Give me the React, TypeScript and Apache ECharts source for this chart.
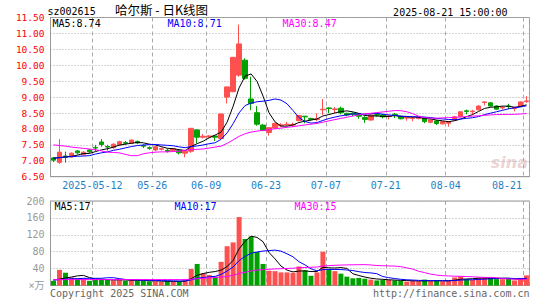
import React, { useEffect, useRef } from 'react';
import * as echarts from 'echarts';

const stockCode = 'sz002615';
const titleText = '哈尔斯 - 日K线图';
const timeText = '2025-08-21 15:00:00';
const maTexts = ['MA5:8.74', 'MA10:8.71', 'MA30:8.47'];
const volMaTexts = ['MA5:17', 'MA10:17', 'MA30:15'];
const copyText = 'Copyright 2025 SINA.COM';
const urlText = 'http://finance.sina.com.cn';

const categories = [
  '2025-04-28', '2025-04-29', '2025-04-30', '2025-05-06', '2025-05-07', '2025-05-08', '2025-05-09',
  '2025-05-12', '2025-05-13', '2025-05-14', '2025-05-15', '2025-05-16',
  '2025-05-19', '2025-05-20', '2025-05-21', '2025-05-22', '2025-05-23',
  '2025-05-26', '2025-05-27', '2025-05-28', '2025-05-29', '2025-05-30',
  '2025-06-03', '2025-06-04', '2025-06-05', '2025-06-06',
  '2025-06-09', '2025-06-10', '2025-06-11', '2025-06-12', '2025-06-13',
  '2025-06-16', '2025-06-17', '2025-06-18', '2025-06-19', '2025-06-20',
  '2025-06-23', '2025-06-24', '2025-06-25', '2025-06-26', '2025-06-27',
  '2025-06-30', '2025-07-01', '2025-07-02', '2025-07-03', '2025-07-04',
  '2025-07-07', '2025-07-08', '2025-07-09', '2025-07-10', '2025-07-11',
  '2025-07-14', '2025-07-15', '2025-07-16', '2025-07-17', '2025-07-18',
  '2025-07-21', '2025-07-22', '2025-07-23', '2025-07-24', '2025-07-25',
  '2025-07-28', '2025-07-29', '2025-07-30', '2025-07-31', '2025-08-01',
  '2025-08-04', '2025-08-05', '2025-08-06', '2025-08-07', '2025-08-08',
  '2025-08-11', '2025-08-12', '2025-08-13', '2025-08-14', '2025-08-15',
  '2025-08-18', '2025-08-19', '2025-08-20', '2025-08-21',
];

const openP = [
  7.09, 6.95, 7.15, 7.12, 7.31, 7.19, 7.34, 7.42, 7.59, 7.45,
  7.41, 7.50, 7.57, 7.55, 7.61, 7.48, 7.41, 7.34, 7.36, 7.33,
  7.32, 7.32, 7.24, 7.30, 7.97, 7.74, 7.75, 7.78, 7.70, 9.00,
  9.17, 9.69, 10.16, 8.94, 8.51, 8.12, 7.89, 8.03, 8.10, 8.13,
  8.12, 8.26, 8.40, 8.33, 8.30, 8.60, 8.66, 8.61, 8.65, 8.49,
  8.49, 8.47, 8.36, 8.28, 8.45, 8.44, 8.39, 8.46, 8.39, 8.34,
  8.33, 8.33, 8.33, 8.21, 8.25, 8.16, 8.18, 8.28, 8.39, 8.57,
  8.54, 8.60, 8.83, 8.82, 8.72, 8.66, 8.72, 8.64, 8.70, 8.86,
];
const closeP = [
  7.02, 7.27, 7.11, 7.24, 7.25, 7.27, 7.28, 7.40, 7.51, 7.43,
  7.52, 7.60, 7.55, 7.65, 7.56, 7.46, 7.39, 7.44, 7.38, 7.30,
  7.38, 7.25, 7.30, 8.02, 7.74, 7.77, 7.78, 7.74, 8.47, 9.32,
  10.25, 10.67, 9.59, 8.80, 8.15, 7.95, 8.04, 8.17, 8.13, 8.15,
  8.14, 8.42, 8.38, 8.30, 8.32, 8.62, 8.64, 8.63, 8.51, 8.44,
  8.46, 8.40, 8.30, 8.44, 8.43, 8.38, 8.41, 8.44, 8.32, 8.36,
  8.35, 8.36, 8.23, 8.28, 8.17, 8.23, 8.23, 8.38, 8.54, 8.55,
  8.56, 8.72, 8.85, 8.72, 8.62, 8.68, 8.70, 8.68, 8.85, 8.88,
];
const lowP = [
  6.96, 6.90, 6.94, 7.10, 7.20, 7.16, 7.24, 7.30, 7.44, 7.32,
  7.38, 7.46, 7.50, 7.52, 7.52, 7.40, 7.34, 7.30, 7.32, 7.26,
  7.28, 7.20, 7.11, 7.25, 7.55, 7.70, 7.72, 7.62, 7.68, 8.80,
  9.15, 9.64, 9.55, 8.59, 8.10, 7.93, 7.79, 8.00, 8.06, 8.10,
  8.08, 8.24, 8.18, 8.26, 8.24, 8.44, 8.49, 8.50, 8.46, 8.40,
  8.40, 8.32, 8.19, 8.26, 8.38, 8.33, 8.30, 8.34, 8.30, 8.26,
  8.24, 8.30, 8.18, 8.18, 8.12, 8.14, 8.07, 8.26, 8.37, 8.46,
  8.45, 8.58, 8.74, 8.70, 8.60, 8.61, 8.62, 8.55, 8.68, 8.82,
];
const highP = [
  7.12, 7.68, 7.29, 7.26, 7.34, 7.30, 7.37, 7.50, 7.68, 7.50,
  7.55, 7.63, 7.62, 7.67, 7.63, 7.52, 7.45, 7.46, 7.42, 7.38,
  7.40, 7.36, 7.32, 8.03, 7.99, 7.84, 7.80, 7.80, 8.48, 9.33,
  10.25, 11.28, 10.22, 9.64, 8.72, 8.16, 8.06, 8.20, 8.18, 8.22,
  8.20, 8.44, 8.41, 8.35, 8.49, 8.94, 8.68, 8.68, 8.70, 8.51,
  8.52, 8.50, 8.40, 8.46, 8.50, 8.47, 8.45, 8.50, 8.41, 8.38,
  8.39, 8.38, 8.36, 8.30, 8.28, 8.25, 8.25, 8.41, 8.55, 8.61,
  8.60, 8.74, 8.86, 8.84, 8.74, 8.72, 8.79, 8.69, 8.86, 9.03,
];
const volumes = [
  11, 37, 30, 19, 17, 17, 11, 14, 15, 13,
  12, 14, 11, 13, 12, 11, 10, 10, 9, 11,
  9, 10, 12, 39, 51, 29, 25, 21, 56, 93,
  102, 162, 110, 116, 79, 51, 35, 34, 31, 31,
  30, 45, 36, 23, 31, 80, 39, 34, 28, 21,
  17, 18, 16, 14, 12, 13, 13, 12, 11, 9,
  11, 10, 14, 10, 12, 10, 11, 19, 22, 15,
  13, 18, 20, 19, 15, 15, 16, 12, 18, 24,
];

// moving-average values before a full window exists
const ma5Head = [7.08, 7.10, 7.12, 7.14];
const ma10Head = [7.08, 7.10, 7.12, 7.13, 7.14, 7.15, 7.16, 7.21, 7.25];
const ma30Head = [
  7.50, 7.48, 7.46, 7.43, 7.41, 7.39, 7.37, 7.35, 7.31, 7.27,
  7.26, 7.25, 7.20, 7.16, 7.16, 7.22, 7.25, 7.27, 7.28, 7.28,
  7.29, 7.30, 7.33, 7.35, 7.36, 7.37, 7.40, 7.43, 7.46,
];
const vma5Head = [13, 15, 18, 20];
const vma10Head = [13, 14, 15, 16, 16, 17, 17, 17, 17];
const vma30Head = [
  14, 14, 14, 14, 14, 14, 14, 14, 14, 14,
  14, 14, 14, 14, 14, 14, 14, 14, 14, 14,
  14, 14, 14, 15, 16, 17, 18, 19, 20,
];

const tickDates = ['2025-05-12', '2025-05-26', '2025-06-09', '2025-06-23', '2025-07-07', '2025-07-21', '2025-08-04', '2025-08-21'];
const tickTexts = ['2025-05-12', '05-26', '06-09', '06-23', '07-07', '07-21', '08-04', '08-21'];

const priceMin = 6.5;
const priceMax = 11.5;
const priceStep = 0.5;
const volMax = 200;
const volStep = 40;
const volUnit = '×万';

const RED = '#ff5050';
const GREEN = '#00a000';
const MONO = '"DejaVu Sans Mono", "Liberation Mono", "Noto Sans CJK SC", monospace';

function movingAvg(vals: number[], n: number, head: number[]) {
  return vals.map((_, i) => {
    if (i < n - 1) return head[i];
    let s = 0;
    for (let k = i - n + 1; k <= i; k++) s += vals[k];
    return +(s / n).toFixed(3);
  });
}

function txt(text: string, x: number, y: number, fill: string, font: string, align = 'left') {
  return {
    type: 'text',
    x,
    y,
    silent: true,
    z: 100,
    style: { text, fill, font, textAlign: align, textVerticalAlign: 'middle' },
  };
}

export default function App() {
  const ref = useRef<HTMLDivElement>(null);

  useEffect(() => {
    document.body.style.margin = '0';
    const chart = echarts.init(ref.current!, null, { renderer: 'svg' });

    const tickIdx = tickDates.map((d) => categories.indexOf(d));
    const tickSet = new Set(tickIdx);
    const lastIdx = tickIdx[tickIdx.length - 1];

    const candleData = categories.map((_, i) => [openP[i], closeP[i], lowP[i], highP[i]]);
    const volData = volumes.map((v, i) => ({
      value: v,
      itemStyle: { color: closeP[i] >= openP[i] ? RED : GREEN },
    }));

    const ma5 = movingAvg(closeP, 5, ma5Head);
    const ma10 = movingAvg(closeP, 10, ma10Head);
    const ma30 = movingAvg(closeP, 30, ma30Head);
    const vma5 = movingAvg(volumes, 5, vma5Head);
    const vma10 = movingAvg(volumes, 10, vma10Head);
    const vma30 = movingAvg(volumes, 30, vma30Head);

    const lineS = (name: string, data: number[], color: string, xi: number) => ({
      name,
      type: 'line',
      data,
      xAxisIndex: xi,
      yAxisIndex: xi,
      symbol: 'none',
      silent: true,
      z: 5,
      lineStyle: { color, width: 1 },
    });

    const gridBase = { left: 50.5, right: 15.5, show: true, borderColor: '#999', borderWidth: 1, backgroundColor: 'transparent' };
    const splitX = { show: true, interval: (i: number) => tickSet.has(i), lineStyle: { color: '#aaa', type: [4, 3], width: 1 } };

    const option: any = {
      animation: false,
      backgroundColor: '#fff',
      grid: [
        { ...gridBase, top: 17.5, height: 159.2 },
        { ...gridBase, top: 201, height: 84.5 },
      ],
      xAxis: [
        {
          type: 'category',
          gridIndex: 0,
          data: categories,
          boundaryGap: true,
          axisLine: { show: true, lineStyle: { color: '#999' } },
          axisTick: { show: false },
          axisLabel: {
            interval: (i: number) => tickSet.has(i),
            formatter: (_v: string, i: number) => {
              const t = tickTexts[tickIdx.indexOf(i)];
              return i === lastIdx ? '{last|' + t + '}' : t;
            },
            color: '#1f7fc6',
            fontSize: 10,
            fontFamily: MONO,
            margin: 4,
            padding: [0, 6, 0, 0],
            rich: { last: { color: '#1f7fc6', fontSize: 10, fontFamily: MONO, padding: [0, 33, 0, 0] } },
          },
          splitLine: splitX,
        },
        {
          type: 'category',
          gridIndex: 1,
          data: categories,
          boundaryGap: true,
          axisLine: { show: true, lineStyle: { color: '#999' } },
          axisTick: { show: false },
          axisLabel: { show: false },
          splitLine: splitX,
        },
      ],
      yAxis: [
        {
          type: 'value',
          gridIndex: 0,
          min: priceMin,
          max: priceMax,
          interval: priceStep,
          axisLine: { show: true, lineStyle: { color: '#999' } },
          axisTick: { show: false },
          axisLabel: {
            color: '#ff0000',
            fontSize: 9.5,
            fontFamily: MONO,
            margin: 6,
            formatter: (v: number) => v.toFixed(2),
          },
          splitLine: { lineStyle: { color: '#aaa', type: [1, 2] } },
        },
        {
          type: 'value',
          gridIndex: 1,
          min: 0,
          max: volMax,
          interval: volStep,
          axisLine: { show: true, lineStyle: { color: '#999' } },
          axisTick: { show: false },
          axisLabel: {
            color: '#999',
            fontSize: 10,
            fontFamily: MONO,
            margin: 6,
            formatter: (v: number) => (v === 0 ? volUnit : String(v)),
          },
          splitLine: { lineStyle: { color: '#aaa', type: [1, 2] } },
        },
      ],
      series: [
        {
          name: 'K',
          type: 'candlestick',
          xAxisIndex: 0,
          yAxisIndex: 0,
          data: candleData,
          barWidth: 5,
          silent: true,
          itemStyle: { color: RED, color0: GREEN, borderColor: RED, borderColor0: GREEN, borderWidth: 1 },
        },
        lineS('MA5', ma5, '#000000', 0),
        lineS('MA10', ma10, '#0000ff', 0),
        lineS('MA30', ma30, '#ff00ff', 0),
        {
          name: 'VOL',
          type: 'bar',
          xAxisIndex: 1,
          yAxisIndex: 1,
          data: volData,
          barWidth: 5,
          silent: true,
        },
        lineS('VMA5', vma5, '#000000', 1),
        lineS('VMA10', vma10, '#0000ff', 1),
        lineS('VMA30', vma30, '#ff00ff', 1),
      ],
      graphic: [
        txt(stockCode, 47.5, 11, '#000', `10px ${MONO}`),
        txt(titleText, 115, 9, '#000', '12.5px "Noto Sans CJK SC"'),
        txt(timeText, 507.5, 12, '#000', `10px ${MONO}`, 'right'),
        txt(maTexts[0], 52.5, 23.5, '#000', `10px ${MONO}`),
        txt(maTexts[1], 167.5, 23.5, '#0000ff', `10px ${MONO}`),
        txt(maTexts[2], 282.5, 23.5, '#ff00ff', `10px ${MONO}`),
        txt(volMaTexts[0], 54.5, 206.5, '#000', `10px ${MONO}`),
        txt(volMaTexts[1], 174.5, 206.5, '#0000ff', `10px ${MONO}`),
        txt(volMaTexts[2], 294.5, 206.5, '#ff00ff', `10px ${MONO}`),
        txt(copyText, 50, 293, '#666', `10px ${MONO}`),
        txt(urlText, 529.5, 293, '#666', `10px ${MONO}`, 'right'),
        txt('sina', 528, 162, 'rgba(210,160,160,0.45)', 'italic bold 16px "DejaVu Sans"', 'right'),
      ],
    };

    chart.setOption(option);
    return () => chart.dispose();
  }, []);

  return <div ref={ref} style={{ width: 545, height: 300 }} />;
}
